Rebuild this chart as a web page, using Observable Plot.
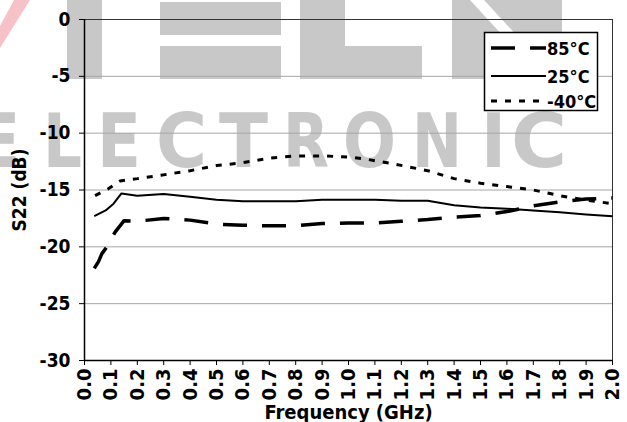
<!DOCTYPE html>
<html>
<head>
<meta charset="utf-8">
<script src="https://cdn.jsdelivr.net/npm/d3@7"></script>
<script src="https://cdn.jsdelivr.net/npm/@observablehq/plot@0.6"></script>
<style>
  html, body { margin: 0; padding: 0; background: white; }
  #wrap { position: relative; width: 627px; height: 422px; overflow: hidden; }
  #wm { position: absolute; left: 0; top: 0; z-index: 0; }
  #chart { position: absolute; left: 0; top: 0; z-index: 1; }
  #legend { position: absolute; left: 0; top: 0; z-index: 2; pointer-events: none; }
  .cond { font-family: "Liberation Sans Narrow", "DejaVu Sans Condensed", "Arial Narrow", sans-serif; font-stretch: condensed; font-weight: bold; }
</style>
</head>
<body>
<div id="wrap">
  <svg id="wm" width="627" height="422" class="cond">
    <polygon points="0,48 0,26 14,0 30,0" fill="#f6c2c8"/>
    <rect x="67" y="0" width="35" height="79" fill="#c8c8c8"/>
    <rect x="160" y="2" width="121" height="33" fill="#c8c8c8"/>
    <rect x="160" y="46" width="121" height="33" fill="#c8c8c8"/>
    <rect x="300" y="0" width="45" height="79" fill="#c8c8c8"/>
    <rect x="300" y="46" width="122" height="33" fill="#c8c8c8"/>
    <rect x="452" y="0" width="110" height="79" fill="#c8c8c8"/>
    <polygon points="470,0 484,0 530,50 516,50" fill="white"/>
    <g fill="#c8c8c8" font-size="74" lengthAdjust="spacingAndGlyphs">
      <text x="-22" y="167" textLength="42" lengthAdjust="spacingAndGlyphs">E</text>
      <text x="43" y="167" textLength="39" lengthAdjust="spacingAndGlyphs">L</text>
      <text x="97" y="167" textLength="44" lengthAdjust="spacingAndGlyphs">E</text>
      <text x="156" y="167" textLength="51" lengthAdjust="spacingAndGlyphs">C</text>
      <text x="219" y="167" textLength="49" lengthAdjust="spacingAndGlyphs">T</text>
      <text x="283" y="167" textLength="46" lengthAdjust="spacingAndGlyphs">R</text>
      <text x="343" y="167" textLength="53" lengthAdjust="spacingAndGlyphs">O</text>
      <text x="412" y="167" textLength="50" lengthAdjust="spacingAndGlyphs">N</text>
      <text x="481" y="167" textLength="25" lengthAdjust="spacingAndGlyphs">I</text>
      <text x="511" y="167" textLength="56" lengthAdjust="spacingAndGlyphs">C</text>
    </g>
  </svg>
  <div id="chart"></div>
  <svg id="legend" width="627" height="422" class="cond"></svg>
</div>
<script>
// ---- data ----
const seriesNames = ["85°C", "25°C", "-40°C"];

const freq85 = [0.037, 0.053, 0.066, 0.085, 0.116, 0.15, 0.2, 0.3, 0.4, 0.5, 0.6, 0.7, 0.8, 0.9, 1.0, 1.1, 1.2, 1.3, 1.4, 1.5, 1.6, 1.7, 1.8, 1.9, 2.0];
const s22_85 = [-21.9, -21.3, -20.6, -20.0, -18.7, -17.7, -17.75, -17.5, -17.65, -18.0, -18.1, -18.15, -18.15, -17.95, -17.9, -17.9, -17.75, -17.6, -17.4, -17.25, -16.9, -16.4, -16.05, -15.8, -15.7];

const freq25 = [0.037, 0.08, 0.11, 0.14, 0.2, 0.3, 0.4, 0.5, 0.6, 0.7, 0.8, 0.9, 1.0, 1.1, 1.2, 1.3, 1.4, 1.5, 1.6, 1.7, 1.8, 1.9, 2.0];
const s22_25 = [-17.3, -16.8, -16.2, -15.3, -15.5, -15.35, -15.6, -15.85, -16.0, -16.0, -16.0, -15.85, -15.85, -15.85, -15.95, -15.95, -16.35, -16.55, -16.65, -16.8, -16.95, -17.15, -17.3];

const freqM40 = [0.04, 0.09, 0.135, 0.2, 0.29, 0.4, 0.5, 0.6, 0.7, 0.8, 0.9, 1.0, 1.07, 1.17, 1.3, 1.4, 1.5, 1.6, 1.7, 1.8, 1.9, 2.0];
const s22_M40 = [-15.5, -14.9, -14.2, -14.0, -13.7, -13.3, -12.85, -12.6, -12.2, -12.0, -12.0, -12.1, -12.3, -12.7, -13.3, -14.0, -14.4, -14.7, -15.0, -15.5, -15.9, -16.2];

const xTicks = [0.0, 0.1, 0.2, 0.3, 0.4, 0.5, 0.6, 0.7, 0.8, 0.9, 1.0, 1.1, 1.2, 1.3, 1.4, 1.5, 1.6, 1.7, 1.8, 1.9, 2.0];
const yTicks = [-30, -25, -20, -15, -10, -5, 0];
const yGrid = [-25, -20, -15, -10, -5];

// ---- build ----
const FONT = '"Liberation Sans Narrow", "DejaVu Sans Condensed", "Arial Narrow", sans-serif';
const toRows = (fs, vs) => fs.map((f, i) => ({f, v: vs[i]}));
const styles = [
  {stroke: "black", strokeWidth: 3.5, strokeDasharray: "24,15"},
  {stroke: "black", strokeWidth: 2, strokeDasharray: null},
  {stroke: "black", strokeWidth: 3, strokeDasharray: "6,8"}
];
const rows = [toRows(freq85, s22_85), toRows(freq25, s22_25), toRows(freqM40, s22_M40)];

const chart = Plot.plot({
  width: 627, height: 422,
  marginLeft: 84, marginRight: 15, marginTop: 19, marginBottom: 62,
  style: {background: "transparent", fontFamily: FONT, fontSize: "20px", fontWeight: "bold", color: "black", fontStretch: "condensed", overflow: "visible"},
  x: {domain: [0, 2]},
  y: {domain: [-30, 0]},
  marks: [
    Plot.gridY(yGrid, {stroke: "#a6a6a6", strokeOpacity: 1, strokeWidth: 1}),
    Plot.ruleY([0], {stroke: "#333", strokeWidth: 1}),
    Plot.ruleX([2], {stroke: "#333", strokeWidth: 1}),
    Plot.axisY({ticks: yTicks, tickSize: 5, tickPadding: 9, tickFormat: d => String(d), label: "S22 (dB)", labelAnchor: "center", labelArrow: "none", labelOffset: 72, fontSize: 19}),
    Plot.axisX({ticks: xTicks, tickSize: 5, tickPadding: 3, tickRotate: -90, tickFormat: d3.format(".1f"), label: "Frequency (GHz)", labelAnchor: "center", labelArrow: "none", labelOffset: 58, fontSize: 20}),
    Plot.ruleX([0], {stroke: "black", strokeWidth: 1.5}),
    Plot.ruleY([-30], {stroke: "black", strokeWidth: 1.5}),
    Plot.line(rows[1], {x: "f", y: "v", ...styles[1], strokeLinecap: "butt", strokeLinejoin: "round"}),
    Plot.line(rows[0], {x: "f", y: "v", ...styles[0], strokeLinecap: "butt", strokeLinejoin: "miter"}),
    Plot.line(rows[2], {x: "f", y: "v", ...styles[2], strokeLinecap: "butt", strokeLinejoin: "miter"})
  ]
});
document.getElementById("chart").appendChild(chart);

// ---- legend ----
const lg = d3.select("#legend");
lg.append("rect").attr("x", 484.5).attr("y", 32.5).attr("width", 113).attr("height", 78)
  .attr("fill", "white").attr("stroke", "black").attr("stroke-width", 1.5);
const rowY = [48, 76, 101];
seriesNames.forEach((name, i) => {
  const s = styles[i];
  lg.append("line").attr("x1", 491).attr("x2", 546).attr("y1", rowY[i]).attr("y2", rowY[i])
    .attr("stroke", s.stroke).attr("stroke-width", s.strokeWidth)
    .attr("stroke-dasharray", s.strokeDasharray);
  lg.append("text").attr("x", 547).attr("y", rowY[i] + 6.5)
    .attr("font-size", 18).attr("fill", "black").text(name);
});
</script>
</body>
</html>
